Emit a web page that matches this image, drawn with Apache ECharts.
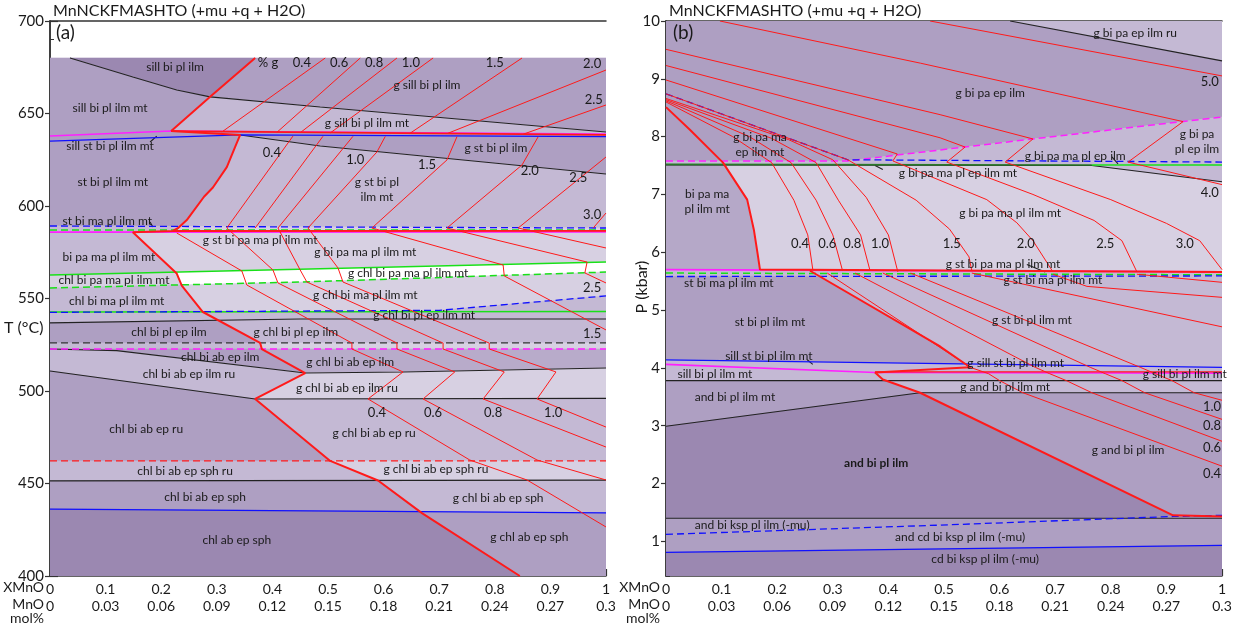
<!DOCTYPE html>
<html><head><meta charset="utf-8">
<script src="https://cdn.jsdelivr.net/npm/echarts@6/dist/echarts.min.js"></script>
<style>html,body{margin:0;padding:0;background:#fff}#chart{width:1250px;height:627px}</style>
</head><body><div id="chart"></div>
<script>
// ---------------- axes ----------------
const xTicks = [0, 0.1, 0.2, 0.3, 0.4, 0.5, 0.6, 0.7, 0.8, 0.9, 1];
const mnoTicks = ['0', '0.03', '0.06', '0.09', '0.12', '0.15', '0.18', '0.21', '0.24', '0.27', '0.3'];
const tempRange = [400, 700];
const pressRange = [0.4, 10];
const pressTicks = [1, 2, 3, 4, 5, 6, 7, 8, 9, 10];

// ---------------- panel (a): T (°C) vs XMnO ----------------
// garnet-in boundary, ordered by falling T
const gInA = [[0.369,680],[0.288,659],[0.218,640.5],[0.342,638.4],[0.333,632],[0.318,621],[0.293,610],[0.277,605],[0.246,592.4],[0.23,588],[0.221,586.5],[0.149,585.8],[0.228,563.5],[0.237,557],[0.275,542.7],[0.378,526],[0.381,522.7],[0.459,509.7],[0.369,495.7],[0.504,462.2],[0.59,451.6],[0.669,434],[0.845,400]];

// assemblage bands: [polygon, garnet-free field, garnet field]; side split made along gInA
const bandsA = [
  [[[0.036,680],[1,680],[1,640],[0.486,653.5],[0.288,659],[0.228,662.7],[0.149,669.7]], 'D', 'M'],
  [[[0,680],[0.036,680],[0.149,669.7],[0.228,662.7],[0.288,659],[0.486,653.5],[1,640],[1,638.5],[0.218,640.5],[0,637.8]], 'M', 'L1'],
  [[[0,637.8],[0.218,640.5],[0.342,638.4],[0,635.1]], 'M', null],
  [[[0.218,640.5],[1,638.5],[1,617.3],[0.486,632.4],[0.342,638.4]], null, 'M'],
  [[[0,635.1],[0.342,638.4],[0.486,632.4],[1,617.3],[1,588.1],[0,589.2]], 'M', 'L1'],
  [[[0,589.2],[1,588.1],[1,586],[0,585.9]], 'L1', 'L2'],
  [[[0,585.9],[1,586],[1,569.7],[0.486,566.1],[0,562.7]], 'L1', 'L2'],
  [[[0,562.7],[0.486,566.1],[1,569.7],[1,564.3],[0.45,558.9],[0,555.7]], 'L2', 'W'],
  [[[0,555.7],[0.45,558.9],[1,564.3],[1,543],[0,542.7]], 'L1', 'L2'],
  [[[0.7,543.6],[1,551.4],[1,543]], null, 'L1'],
  [[[0,542.7],[1,543],[1,538.9],[0.45,538.9],[0,536.8]], 'L1', 'L1'],
  [[[0,536.8],[0.45,538.9],[1,538.9],[1,526],[0,526]], 'M', 'L1'],
  [[[0,526],[1,526],[1,522.7],[0,522.7]], 'L1', 'L2'],
  [[[0,522.7],[1,522.7],[1,512.4],[0.635,510.3],[0.459,509.7],[0.12,521.8]], 'M', 'M2'],
  [[[0,522.7],[0.12,521.8],[0.459,509.7],[0.635,510.3],[1,512.4],[1,496],[0.369,495.7],[0,510.8]], 'L1', 'L2'],
  [[[0,510.8],[0.369,495.7],[1,496],[1,462.2],[0,462.2]], 'M', 'L1'],
  [[[0,462.2],[1,462.2],[1,451.8],[0,451.4]], 'L1', 'L2'],
  [[[0,451.4],[1,451.8],[1,434.1],[0,436.2]], 'M', 'L1'],
  [[[0,436.2],[1,434.1],[1,400],[0,400]], 'D', 'M']
];

const blackA = [
  [[0.036,680],[0.149,669.7],[0.228,662.7],[0.288,659],[0.486,653.5],[1,640]],
  [[0.342,638.4],[0.486,632.4],[1,617.3]],
  [[0,536.8],[0.45,538.9],[1,538.9]],
  [[0,522.7],[0.12,521.8],[0.459,509.7],[0.635,510.3],[1,512.4]],
  [[0,510.8],[0.369,495.7],[1,496]],
  [[0,451.4],[1,451.8]],
  [[0.18,591.4],[0.185,588.6]],
  [[0.18,634.6],[0.192,637.8]]
];
const blackDashA = [[[0,526],[1,526]]];
const redDashA = [[[0,462.2],[1,462.2]]];
const blueA = [[[0,635.1],[0.342,638.4],[1,637.5]], [[0,436.2],[1,434.1]]];
const blueDashA = [[[0,589.2],[1,588.1]], [[0,542.5],[0.7,543.6],[1,551.4]]];
const magentaA = [[[0,637.8],[0.218,640.5],[1,638.9]], [[0,585.9],[1,586]]];
const magentaDashA = [[[0,522.7],[1,522.7]]];
const greenA = [[[0,562.7],[0.486,566.1],[1,569.7]], [[0,542.7],[1,543]]];
const greenDashA = [[[0,587],[1,587]], [[0,555.7],[0.45,558.9],[1,564.3]]];
const redBundleA = [[[0.218,640.5],[1,638.5]], [[0.221,586.5],[1,586.6]]];

// % garnet isopleths
const isoA = [
  [[0.309,640],[0.495,680]],
  [[0.408,639.8],[0.558,680]],
  [[0.45,639.6],[0.624,680]],
  [[0.504,639.5],[0.689,680]],
  [[0.647,639.2],[0.849,680]],
  [[0.714,639.1],[1,673.5]],
  [[0.851,638.8],[1,654.6]],
  [[0.437,637.8],[0.318,588.1]],
  [[0.491,637.7],[0.369,588.1]],
  [[0.545,637.7],[0.41,588.1]],
  [[0.603,637.6],[0.588,629.2],[0.464,588.1]],
  [[0.732,637.5],[0.714,624.9],[0.579,588.1]],
  [[0.878,637.4],[0.849,622.2],[0.714,588.1]],
  [[1,626.5],[0.842,588.1]],
  [[1,596.2],[0.977,588.1]],
  [[0.228,585.4],[0.345,564.9],[0.354,557.3],[0.543,525.9],[0.543,522.7],[0.635,510.3],[0.572,495.7],[0.755,462.7],[0.858,451.9],[1,426.5]],
  [[0.318,588.1],[0.401,565.4],[0.41,558.4],[0.624,525.9],[0.624,522.7],[0.728,510.3],[0.671,495.7],[0.876,462.7],[1,451.9]],
  [[0.41,588.1],[0.45,565.4],[0.462,558.9],[0.707,525.9],[0.707,522.7],[0.817,510.3],[0.779,495.7],[1,469.7]],
  [[0.464,588.1],[0.518,566.5],[0.527,558.9],[0.79,525.9],[0.79,522.7],[0.91,510.3],[0.876,495.7],[1,480.5]],
  [[0.579,588.1],[0.815,568.1],[0.817,562.2],[1,533]],
  [[0.714,588.1],[0.966,569.7],[0.962,563.8],[1,558.4]],
  [[0.842,588.1],[1,577.3]]
];

const fieldNamesA = [
  ['sill bi pl ilm',0.225,675.1],['sill bi pl ilm mt',0.108,653],['g sill bi pl ilm',0.678,665.4],
  ['g sill bi pl ilm mt',0.57,644.9],['sill st bi pl ilm mt',0.108,632.4],['g st bi pl ilm',0.802,631.4],
  ['st bi pl ilm mt',0.113,613],['g st bi pl\nilm mt',0.588,609],['st bi ma pl ilm mt',0.103,591.9],
  ['g st bi pa ma pl ilm mt',0.378,581.6],['bi pa ma pl ilm mt',0.106,572.4],['g bi pa ma pl ilm mt',0.567,575.1],
  ['chl bi pa ma pl ilm mt',0.115,560],['g chl bi pa ma pl ilm mt',0.644,563.8],['chl bi ma pl ilm mt',0.12,548.6],
  ['g chl bi ma pl ilm mt',0.567,551.9],['g chl bi pl ep ilm mt',0.673,541.1],['chl bi pl ep ilm',0.214,531.9],
  ['g chl bi pl ep ilm',0.442,531.9],['chl bi ab ep ilm',0.306,518.4],['g chl bi ab ep ilm',0.54,515.7],
  ['chl bi ab ep ilm ru',0.25,509.2],['g chl bi ab ep ilm ru',0.534,501.6],['chl bi ab ep ru',0.173,479.5],
  ['g chl bi ab ep ru',0.583,477.3],['chl bi ab ep sph ru',0.243,456.8],['g chl bi ab ep sph ru',0.694,457.8],
  ['chl bi ab ep sph',0.279,442.7],['g chl bi ab ep sph',0.806,442.2],['chl ab ep sph',0.336,419.5],
  ['g chl ab ep sph',0.862,421.1]
];
const isoNamesA = [
  ['% g',0.392,677.3],['0.4',0.453,677.3],['0.6',0.52,677.3],['0.8',0.583,677.3],['1.0',0.649,677.3],
  ['1.5',0.8,677.3],['2.0',0.975,676.8],['2.5',0.978,657.3],['0.4',0.399,628.6],['1.0',0.549,624.9],
  ['1.5',0.678,622.2],['2.0',0.863,618.9],['2.5',0.95,615.1],['3.0',0.975,595.1],['2.5',0.975,555.7],
  ['1.5',0.975,530.8],['0.4',0.588,488.1],['0.6',0.689,488.1],['0.8',0.797,488.1],['1.0',0.905,488.1]
];

// ---------------- panel (b): P (kbar) vs XMnO ----------------
const gInB1 = [[0,8.51],[0.043,8.12],[0.1025,7.55],[0.146,6.91],[0.158,6.39],[0.165,5.96],[0.169,5.70],[1,5.66]];
const gInB2 = [[0.259,5.68],[0.493,4.37],[0.547,4.01],[0.376,3.92],[0.39,3.8],[0.457,3.57],[0.912,1.45],[1,1.43]];

const bandsB = [
  [[[0.619,10],[1,10],[1,9.31]], 'L1', null, 1],
  [[[0,10],[0.619,10],[1,9.31],[1,8.34],[0.66,7.96],[0.327,7.58],[0,7.58]], 'M', null, 1],
  [[[0.327,7.58],[0.66,7.96],[1,8.34],[1,7.56]], 'L1', null, 1],
  [[[0,7.58],[0.327,7.58],[1,7.56],[1,7.51],[0,7.52]], 'L1', null, 1],
  [[[0,7.52],[0.766,7.50],[1,7.22],[1,5.66],[0.169,5.70],[0,5.70]], 'M3', 'L2', 1],
  [[[0.766,7.50],[1,7.51],[1,7.22]], 'L1', null, 1],
  [[[0,5.70],[1,5.66],[1,5.59],[0,5.58]], 'L1', null, 2],
  [[[0,5.58],[1,5.59],[1,4.01],[0,4.14]], 'M', 'L1', 2],
  [[[0,4.14],[1,4.01],[1,3.91],[0.376,3.92],[0,4.06]], 'L1', null, 2],
  [[[0,4.06],[0.376,3.92],[1,3.91],[1,3.78],[0,3.78]], 'L1', null, 2],
  [[[0,3.78],[1,3.78],[1,3.57],[0.457,3.57],[0,2.99]], 'M', 'L1', 2],
  [[[0,2.99],[0.457,3.57],[1,3.57],[1,1.40],[0,1.40]], 'D', 'M', 2],
  [[[0,1.40],[0.828,1.40],[0.493,1.28],[0,1.12]], 'M', null, 2],
  [[[0,1.12],[0.493,1.28],[0.912,1.43],[1,1.45],[1,0.93],[0,0.81]], 'M', null, 2],
  [[[0,0.81],[1,0.93],[1,0.4],[0,0.4]], 'D', null, 2]
];

const blackB = [
  [[0.619,10],[1,9.31]],
  [[0,7.51],[0.766,7.50],[1,7.22]],
  [[0,3.78],[1,3.78]],
  [[0,2.99],[0.457,3.57],[1,3.57]],
  [[0,1.40],[1,1.40]],
  [[0.39,7.43],[0.376,7.5]],
  [[0.802,7.65],[0.813,7.53]],
  [[0.254,4.14],[0.264,4.06]],
  [[0.649,5.79],[0.682,5.66]]
];
const darkGreenB = [[[0,7.52],[0.766,7.51]]];
const greenB = [[[0.766,7.51],[1,7.51]]];
const greenDashB = [[[0,5.64],[1,5.61]]];
const magentaB = [[[0,5.70],[1,5.66]], [[0,4.06],[0.376,3.92],[1,3.91]]];
const magentaDashB = [[[0,7.58],[0.327,7.58],[0.66,7.96],[1,8.34]]];
const blueB = [[[0,4.14],[1,4.01]], [[0,0.81],[1,0.93]]];
const blueDashB = [[[0,8.74],[0.327,7.60],[1,7.56]], [[0,5.58],[1,5.59]], [[0,1.12],[0.493,1.28],[0.912,1.43],[1,1.45]]];
const redBundleB = [[[0.376,3.93],[1,3.93]]];

const isoB = [
  [[0.475,10],[1,9.05]],
  [[0.097,10],[0.458,9.27],[0.93,8.26],[0.831,7.56],[1,7.17]],
  [[0,9.51],[0.493,8.38],[0.66,7.96],[0.61,7.56],[0.8,6.91],[0.9,6.5],[0.96,6.2],[1,5.7]],
  [[0,9.23],[0.493,7.98],[0.538,7.82],[0.505,7.56],[0.66,7.0],[0.77,6.55],[0.82,6.2],[0.847,5.66]],
  [[0,8.98],[0.416,7.70],[0.408,7.58],[0.577,6.91],[0.631,6.51],[0.66,6.2],[0.696,5.66]],
  [[0,8.74],[0.327,7.6],[0.45,6.9],[0.51,6.4],[0.545,5.92],[0.55,5.68]],
  [[0,8.66],[0.22,7.95],[0.3,7.6],[0.36,6.95],[0.4,6.3],[0.417,5.66]],
  [[0,8.64],[0.19,7.97],[0.27,7.55],[0.31,6.9],[0.35,6.3],[0.367,5.68]],
  [[0,8.62],[0.15,8.0],[0.225,7.55],[0.27,6.9],[0.3,6.3],[0.317,5.7]],
  [[0,8.6],[0.12,8.0],[0.19,7.55],[0.23,6.9],[0.255,6.3],[0.264,5.7]],
  [[0.29,5.64],[0.547,4.01],[0.58,3.9],[0.6,3.78],[0.642,3.57],[1,2.30]],
  [[0.34,5.64],[0.664,4.01],[0.69,3.9],[0.72,3.78],[0.766,3.57],[1,2.73]],
  [[0.39,5.64],[0.763,4.01],[0.79,3.9],[0.82,3.78],[0.861,3.57],[1,3.11]],
  [[0.44,5.64],[0.853,4.01],[0.88,3.9],[0.91,3.78],[0.95,3.57],[1,3.44]],
  [[0.55,5.64],[1,4.71]],
  [[0.696,5.62],[0.757,5.41],[1,5.22]],
  [[0.847,5.62],[1,5.48]]
];

const fieldNamesB = [
  ['g bi pa ep ilm ru',0.844,9.79],['g bi pa ep ilm',0.583,8.76],['g bi pa\npl ep ilm',0.955,7.91],
  ['g bi pa ma\nep ilm mt',0.169,7.86],['g bi pa ma pl ep ilm',0.736,7.67],['g bi pa ma pl ep ilm mt',0.525,7.37],
  ['bi pa ma\npl ilm mt',0.074,6.87],['g bi pa ma pl ilm mt',0.619,6.67],['g st bi pa ma pl ilm mt',0.606,5.80],
  ['st bi ma pl ilm mt',0.113,5.47],['g st bi ma pl ilm mt',0.696,5.51],['st bi pl ilm mt',0.187,4.80],
  ['g st bi pl ilm mt',0.658,4.82],['sill st bi pl ilm mt',0.185,4.21],['g sill st bi pl ilm mt',0.629,4.09],
  ['sill bi pl ilm mt',0.088,3.89],['g sill bi pl ilm mt',0.933,3.89],['g and bi pl ilm mt',0.61,3.66],
  ['and bi pl ilm mt',0.124,3.49],['and bi pl ilm',0.378,2.35,'bold'],['g and bi pl ilm',0.831,2.57],
  ['and bi ksp pl ilm (-mu)',0.155,1.28],['and cd bi ksp pl ilm (-mu)',0.529,1.07],['cd bi ksp pl ilm (-mu)',0.574,0.69]
];
const isoNamesB = [
  ['5.0',0.978,8.95],['4.0',0.978,7.03],['0.4',0.241,6.15],['0.6',0.29,6.15],['0.8',0.335,6.15],
  ['1.0',0.385,6.15],['1.5',0.514,6.15],['2.0',0.647,6.15],['2.5',0.79,6.15],['3.0',0.933,6.15],
  ['1.0',0.982,3.33],['0.8',0.982,3.0],['0.6',0.982,2.61],['0.4',0.982,2.16]
];

// ---------------- styling ----------------
const shade = { D: '#9b88b1', M: '#ae9fc2', M2: '#b8abca', M3: '#b5a8c8', L1: '#c4b9d4', L2: '#d7d0e2', W: '#ffffff' };
const FONT = 'Lato, "Open Sans", sans-serif';

// split a polygon along a boundary curve x = f(y) (curve ordered by decreasing y)
function curveX(curve, t) {
  const n = curve.length;
  if (t >= curve[0][1]) return curve[0][0];
  if (t <= curve[n - 1][1]) return curve[n - 1][0];
  for (let i = 0; i < n - 1; i++) {
    const a = curve[i], b = curve[i + 1];
    if (t <= a[1] && t >= b[1]) {
      const d = a[1] - b[1];
      return d === 0 ? b[0] : a[0] + (b[0] - a[0]) * (a[1] - t) / d;
    }
  }
  return curve[n - 1][0];
}
function clipSide(poly, curve, side) {
  const f = p => side * (p[0] - curveX(curve, p[1]));
  const s = poly.findIndex(p => f(p) > 1e-9);
  if (s < 0) return [];
  const P = poly.slice(s).concat(poly.slice(0, s));
  const lerp = (a, b, m) => [a[0] + (b[0] - a[0]) * m, a[1] + (b[1] - a[1]) * m];
  const cross = (a, b) => {
    let lo = 0, hi = 1; const sa = f(a) >= 0;
    for (let k = 0; k < 40; k++) { const m = (lo + hi) / 2; if ((f(lerp(a, b, m)) >= 0) === sa) lo = m; else hi = m; }
    return lerp(a, b, (lo + hi) / 2);
  };
  const between = (t0, t1) => {
    const lo = Math.min(t0, t1), hi = Math.max(t0, t1);
    const v = curve.filter(c => c[1] > lo && c[1] < hi);
    return t0 > t1 ? v : v.slice().reverse();
  };
  const out = []; let exitT = null;
  for (let i = 0; i < P.length; i++) {
    const a = P[i], b = P[(i + 1) % P.length];
    const ina = f(a) >= 0, inb = f(b) >= 0;
    if (ina && inb) out.push(b);
    else if (ina && !inb) { const c = cross(a, b); out.push(c); exitT = c[1]; }
    else if (!ina && inb) { const c = cross(a, b); if (exitT !== null) out.push(...between(exitT, c[1])); out.push(c, b); exitT = null; }
  }
  return out;
}

function buildFields(bands, curveFor) {
  const polys = [], fills = [];
  bands.forEach(b => {
    const [poly, left, right] = b;
    const curve = curveFor(b);
    if (left && right) {
      if (left === right) { polys.push(poly); fills.push(shade[left]); return; }
      polys.push(clipSide(poly, curve, -1)); fills.push(shade[left]);
      polys.push(clipSide(poly, curve, 1)); fills.push(shade[right]);
    } else { polys.push(poly); fills.push(shade[left || right]); }
  });
  return { polys, fills };
}

const fieldsA = buildFields(bandsA, () => gInA);
const fieldsB = buildFields(bandsB, b => (b[3] === 1 ? gInB1 : gInB2));

const series = [];
function fieldSeries(ax, f) {
  series.push({
    type: 'custom', xAxisIndex: ax.x, yAxisIndex: ax.y, silent: true, z: 1, clip: true,
    data: f.polys.map((p, i) => [i]),
    dimensions: ['i'], encode: { x: -1, y: -1 },
    renderItem: (params, api) => {
      const i = params.dataIndex;
      const pts = f.polys[i].map(p => api.coord(p));
      return { type: 'polygon', shape: { points: pts }, style: { fill: f.fills[i], stroke: f.fills[i], lineWidth: 0.6 } };
    }
  });
}
function lineSeries(ax, lines, color, width, dash, z) {
  lines.forEach(pts => series.push({
    type: 'line', xAxisIndex: ax.x, yAxisIndex: ax.y, data: pts, showSymbol: false, symbol: 'none',
    silent: true, z: z || 3, animation: false,
    lineStyle: { color, width, type: dash ? [7, 4] : 'solid' }
  }));
}
function textSeries(ax, items, size) {
  series.push({
    type: 'custom', xAxisIndex: ax.x, yAxisIndex: ax.y, silent: true, z: 10, clip: false,
    data: items.map((t, i) => [i]), dimensions: ['i'], encode: { x: -1, y: -1 },
    renderItem: (params, api) => {
      const it = items[params.dataIndex];
      const pt = api.coord([it[1], it[2]]);
      return { type: 'text', x: pt[0], y: pt[1], z2: 10,
        style: { text: it[0], fill: '#1a1a1a', font: (it[3] === 'bold' ? 'bold ' : '') + size + 'px ' + FONT,
                 align: 'center', verticalAlign: 'middle', lineHeight: size + 3 } };
    }
  });
}

const axA = { x: 0, y: 0 }, axB = { x: 2, y: 2 };
fieldSeries(axA, fieldsA);
fieldSeries(axB, fieldsB);

const RED = '#ff1a1a';
// panel (a) boundaries
lineSeries(axA, blackA, '#222', 1.1);
lineSeries(axA, blackDashA, '#333', 1.1, true);
lineSeries(axA, redDashA, RED, 1.2, true);
lineSeries(axA, greenA, '#19e019', 1.5);
lineSeries(axA, greenDashA, '#19e019', 1.5, true);
lineSeries(axA, blueA, '#1010ff', 1.3);
lineSeries(axA, blueDashA, '#1010ff', 1.3, true);
lineSeries(axA, magentaA, '#ff20ff', 1.6);
lineSeries(axA, magentaDashA, '#ff20ff', 1.5, true);
lineSeries(axA, isoA, RED, 1, false, 4);
lineSeries(axA, redBundleA, RED, 1.8, false, 4);
lineSeries(axA, [gInA], RED, 2, false, 5);
// panel (b) boundaries
lineSeries(axB, blackB, '#222', 1.1);
lineSeries(axB, darkGreenB, '#2a7a2a', 1.6);
lineSeries(axB, greenB, '#19e019', 1.6);
lineSeries(axB, greenDashB, '#19e019', 1.5, true);
lineSeries(axB, magentaB, '#ff20ff', 1.6);
lineSeries(axB, magentaDashB, '#ff20ff', 1.5, true);
lineSeries(axB, blueB, '#1010ff', 1.3);
lineSeries(axB, blueDashB, '#1010ff', 1.3, true);
lineSeries(axB, isoB, RED, 1, false, 4);
lineSeries(axB, redBundleB, RED, 1.4, false, 4);
lineSeries(axB, [gInB1, gInB2], RED, 2, false, 5);

textSeries(axA, fieldNamesA, 12);
textSeries(axA, isoNamesA, 13);
textSeries(axB, fieldNamesB, 12);
textSeries(axB, isoNamesB, 13);

// ---------------- axes ----------------
const frame = { color: '#333', width: 1.5 };
const tickLabel = v => {
  const i = xTicks.findIndex(t => Math.abs(t - v) < 1e-6);
  if (i < 0) return '';
  return (i === 0 ? '0' : (i === 10 ? '1' : String(xTicks[i]))) + '\n' + mnoTicks[i];
};
function xAxes(grid) {
  return [
    { type: 'value', gridIndex: grid, min: 0, max: 1, interval: 0.1, position: 'bottom',
      axisLine: { show: true, lineStyle: frame },
      axisTick: { show: true, inside: true, length: 7, lineStyle: { color: '#333', width: 1.2 } },
      minorTick: { show: true, splitNumber: 10, length: 4, lineStyle: { color: '#333', width: 1 } },
      axisLabel: { formatter: tickLabel, fontSize: 14, fontFamily: FONT, color: '#1a1a1a', lineHeight: 17, margin: 5 },
      splitLine: { show: false }, minorSplitLine: { show: false } },
    { type: 'value', gridIndex: grid, min: 0, max: 1, position: 'top',
      axisLine: { show: true, lineStyle: frame }, axisTick: { show: false }, axisLabel: { show: false }, splitLine: { show: false } }
  ];
}
// outward stubs of the major ticks on the value axes
const outerTicks = (grid, extra) => Object.assign({ type: 'value', gridIndex: grid, position: 'left',
  axisLine: { show: false }, axisLabel: { show: false }, splitLine: { show: false } }, extra);
const option = {
  animation: false,
  backgroundColor: '#fff',
  grid: [
    { left: 50, right: 644, top: 21, bottom: 51 },
    { left: 666, right: 28, top: 21, bottom: 51 }
  ],
  xAxis: [...xAxes(0), ...xAxes(1)],
  yAxis: [
    { type: 'value', gridIndex: 0, min: tempRange[0], max: tempRange[1], interval: 50, position: 'left',
      axisLine: { show: true, lineStyle: frame },
      axisTick: { show: true, inside: true, length: 8, lineStyle: { color: '#333', width: 1.2 } },
      minorTick: { show: true, splitNumber: 5, length: 4, lineStyle: { color: '#333' } },
      axisLabel: { fontSize: 15, fontFamily: FONT, color: '#1a1a1a', margin: 6 },
      splitLine: { show: false } },
    { type: 'value', gridIndex: 0, min: tempRange[0], max: tempRange[1], position: 'right',
      axisLine: { show: true, lineStyle: frame }, axisTick: { show: false }, axisLabel: { show: false }, splitLine: { show: false } },
    { type: 'value', gridIndex: 1, min: pressRange[0], max: pressRange[1], position: 'left',
      axisLine: { show: true, lineStyle: frame },
      axisTick: { show: true, inside: true, length: 8, customValues: pressTicks, lineStyle: { color: '#333', width: 1.2 } },
      axisLabel: { customValues: pressTicks, fontSize: 15, fontFamily: FONT, color: '#1a1a1a', margin: 6 },
      splitLine: { show: false } },
    { type: 'value', gridIndex: 1, min: pressRange[0], max: pressRange[1], position: 'right',
      axisLine: { show: true, lineStyle: frame }, axisTick: { show: false }, axisLabel: { show: false }, splitLine: { show: false } },
    outerTicks(1, { min: pressRange[0], max: pressRange[1], interval: 0.1,
      axisTick: { show: true, inside: true, length: 4, lineStyle: { color: '#333' } } }),
    outerTicks(0, { min: tempRange[0], max: tempRange[1], interval: 50,
      axisTick: { show: true, inside: false, length: 5, lineStyle: { color: '#333', width: 1.2 } } }),
    outerTicks(1, { min: pressRange[0], max: pressRange[1],
      axisTick: { show: true, inside: false, length: 5, customValues: pressTicks, lineStyle: { color: '#333', width: 1.2 } } })
  ],
  graphic: [
    { type: 'text', left: 53, top: 3, style: { text: 'MnNCKFMASHTO (+mu +q + H2O)', font: '16px ' + FONT, fill: '#1a1a1a' } },
    { type: 'text', left: 669, top: 3, style: { text: 'MnNCKFMASHTO (+mu +q + H2O)', font: '16px ' + FONT, fill: '#1a1a1a' } },
    { type: 'text', left: 56, top: 23, z: 20, style: { text: '(a)', font: '19px ' + FONT, fill: '#1a1a1a' } },
    { type: 'text', left: 673, top: 23, z: 20, style: { text: '(b)', font: '19px ' + FONT, fill: '#1a1a1a' } },
    { type: 'text', left: 4, top: 320, style: { text: 'T (°C)', font: '16px ' + FONT, fill: '#1a1a1a' } },
    { type: 'text', x: 642, y: 287, rotation: Math.PI / 2, style: { text: 'P (kbar)', font: '16px ' + FONT, fill: '#1a1a1a', align: 'center', verticalAlign: 'middle' } },
    { type: 'text', right: 1250 - 44, top: 580, style: { text: 'XMnO', font: '14px ' + FONT, fill: '#1a1a1a' } },
    { type: 'text', right: 1250 - 44, top: 597, style: { text: 'MnO', font: '14px ' + FONT, fill: '#1a1a1a' } },
    { type: 'text', left: 10, top: 611, style: { text: 'mol%', font: '14px ' + FONT, fill: '#1a1a1a' } },
    { type: 'text', right: 1250 - 660, top: 580, style: { text: 'XMnO', font: '14px ' + FONT, fill: '#1a1a1a' } },
    { type: 'text', right: 1250 - 660, top: 597, style: { text: 'MnO', font: '14px ' + FONT, fill: '#1a1a1a' } },
    { type: 'text', left: 626, top: 611, style: { text: 'mol%', font: '14px ' + FONT, fill: '#1a1a1a' } }
  ],
  series
};
const chart = echarts.init(document.getElementById('chart'), null, { renderer: 'canvas' });
chart.setOption(option);
</script></body></html>
